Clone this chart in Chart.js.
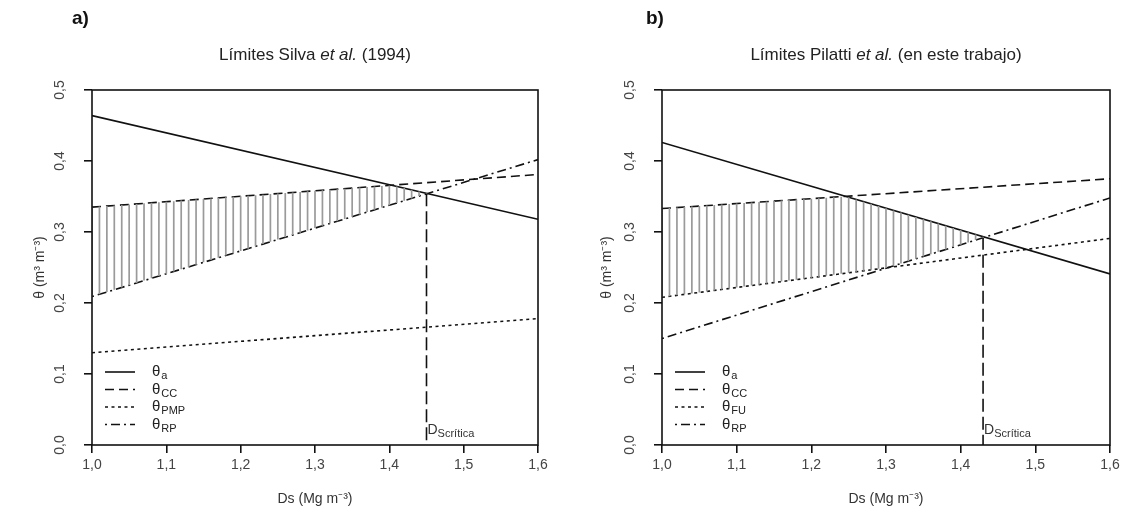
<!DOCTYPE html>
<html>
<head>
<meta charset="utf-8">
<script src="https://cdn.jsdelivr.net/npm/chart.js@4"></script>
<style>
body { margin: 0; background: #fff; font-family: "Liberation Sans", Arial, sans-serif; }
#wrap { position: relative; width: 1125px; height: 523px; overflow: hidden; }
canvas { position: absolute; top: 0; }
.tag { position: absolute; top: 7px; font-weight: bold; font-size: 19px; color: #111; }
.ttl { position: absolute; top: 45px; font-size: 17px; color: #222; white-space: nowrap; transform: translateX(-50%); }
</style>
</head>
<body>
<div id="wrap">
  <canvas id="chartA" width="562" height="523" style="left:0"></canvas>
  <canvas id="chartB" width="563" height="523" style="left:562px"></canvas>
  <div class="tag" style="left:72px">a)</div>
  <div class="tag" style="left:646px">b)</div>
  <div class="ttl" style="left:315px">Límites Silva <i>et al.</i> (1994)</div>
  <div class="ttl" style="left:886px">Límites Pilatti <i>et al.</i> (en este trabajo)</div>
</div>
<script>
// bulk density (x) at the two ends of each line
const dsRange = [1.0, 1.6];
const xTicks = [1.0, 1.1, 1.2, 1.3, 1.4, 1.5, 1.6];
const yTicks = [0.0, 0.1, 0.2, 0.3, 0.4, 0.5];

// panel a) Silva et al. (1994)
const thetaA_a = [0.464, 0.318];
const thetaCC_a = [0.335, 0.381];
const thetaPMP_a = [0.130, 0.178];
const thetaRP_a = [0.209, 0.402];
const dsCrit_a = 1.45;

// panel b) Pilatti et al.
const thetaA_b = [0.426, 0.241];
const thetaCC_b = [0.333, 0.375];
const thetaFU_b = [0.208, 0.291];
const thetaRP_b = [0.150, 0.348];
const dsCrit_b = 1.43;

const hatchStep = 0.01;
const FONT = '"Liberation Sans", Arial, sans-serif';

function lineAt(arr, x) {
    const t = (x - dsRange[0]) / (dsRange[1] - dsRange[0]);
    return arr[0] + t * (arr[1] - arr[0]);
}

function toPoints(arr) {
    return dsRange.map((x, i) => ({x: x, y: arr[i]}));
}

// vertical hatch segments between the upper limits and the lower limits
function hatchPoints(upper, lower, xEnd) {
    const pts = [];
    const n = Math.round((xEnd - dsRange[0]) / hatchStep);
    for (let i = 0; i <= n; i++) {
        const x = dsRange[0] + i * hatchStep;
        const hi = Math.min(...upper.map(a => lineAt(a, x)));
        const lo = Math.max(...lower.map(a => lineAt(a, x)));
        pts.push({x: x, y: lo}, {x: x, y: hi}, {x: x, y: null});
    }
    return pts;
}

function fmt(v) {
    return v.toFixed(1).replace('.', ',');
}

const boxPlugin = {
    id: 'box',
    afterDatasetsDraw(chart) {
        const a = chart.chartArea, ctx = chart.ctx;
        ctx.save();
        ctx.strokeStyle = '#111';
        ctx.lineWidth = 1.6;
        ctx.strokeRect(a.left, a.top, a.right - a.left, a.bottom - a.top);
        ctx.restore();
    }
};

function makeChart(id, opt) {
    const styles = [
        {dash: [], sub: 'a'},
        {dash: [9, 5], sub: 'CC'},
        {dash: [3, 3.5], sub: opt.lowName},
        {dash: [2, 4, 9, 4], sub: 'RP'}
    ];
    const series = [opt.a, opt.cc, opt.low, opt.rp];

    const datasets = [{
        data: hatchPoints([opt.cc, opt.a], [opt.low, opt.rp], opt.crit),
        borderColor: '#9a9a9a',
        borderWidth: 1.7,
        spanGaps: false
    }];
    series.forEach((s, i) => {
        datasets.push({
            data: toPoints(s),
            borderColor: '#111',
            borderWidth: 1.6,
            borderDash: styles[i].dash
        });
    });
    datasets.push({
        data: [{x: opt.crit, y: lineAt(opt.a, opt.crit)}, {x: opt.crit, y: 0}],
        borderColor: '#111',
        borderWidth: 1.6,
        borderDash: [13, 5]
    });

    const legendPlugin = {
        id: 'thetaLegend',
        afterDatasetsDraw(chart) {
            const a = chart.chartArea, ctx = chart.ctx;
            ctx.save();
            styles.forEach((st, i) => {
                const y = a.bottom - 73 + i * 17.5;
                ctx.strokeStyle = '#111';
                ctx.lineWidth = 1.6;
                ctx.setLineDash(st.dash);
                ctx.beginPath();
                ctx.moveTo(a.left + 13, y);
                ctx.lineTo(a.left + 43, y);
                ctx.stroke();
                ctx.setLineDash([]);
                ctx.fillStyle = '#222';
                ctx.textBaseline = 'middle';
                ctx.font = '15px ' + FONT;
                ctx.fillText('θ', a.left + 60, y);
                const w = ctx.measureText('θ').width;
                ctx.font = '11px ' + FONT;
                ctx.fillText(st.sub, a.left + 60 + w + 1, y + 4);
            });
            // critical bulk density label
            const x = chart.scales.x.getPixelForValue(opt.crit) + 1;
            ctx.fillStyle = '#333';
            ctx.textBaseline = 'alphabetic';
            ctx.font = '14px ' + FONT;
            ctx.fillText('D', x, a.bottom - 11);
            const wd = ctx.measureText('D').width;
            ctx.font = '11px ' + FONT;
            ctx.fillText('Scrítica', x + wd, a.bottom - 8);
            ctx.restore();
        }
    };

    return new Chart(document.getElementById(id).getContext('2d'), {
        type: 'line',
        data: {datasets: datasets},
        options: {
            responsive: false,
            animation: false,
            layout: {padding: {top: 90, right: opt.padRight, left: 0, bottom: 0}},
            elements: {point: {radius: 0}, line: {tension: 0}},
            plugins: {legend: {display: false}, tooltip: {enabled: false}},
            scales: {
                x: {
                    type: 'linear',
                    min: 1.0,
                    max: 1.6,
                    afterBuildTicks: s => { s.ticks = xTicks.map(v => ({value: v})); },
                    afterFit: s => { s.height = 78; },
                    grid: {drawOnChartArea: false, drawTicks: true, tickLength: 8, color: '#111', lineWidth: 1.6},
                    border: {display: false},
                    ticks: {callback: v => fmt(v), color: '#444', font: {family: FONT, size: 14}, padding: 4, maxRotation: 0},
                    title: {display: true, text: 'Ds (Mg m⁻³)', color: '#333', font: {family: FONT, size: 14}, padding: {top: 0, bottom: 15}}
                },
                y: {
                    type: 'linear',
                    min: 0,
                    max: 0.5,
                    afterBuildTicks: s => { s.ticks = yTicks.map(v => ({value: v})); },
                    afterFit: s => { s.width = opt.yWidth; },
                    grid: {drawOnChartArea: false, drawTicks: true, tickLength: 8, color: '#111', lineWidth: 1.6},
                    border: {display: false},
                    ticks: {callback: v => fmt(v), color: '#444', font: {family: FONT, size: 14}, padding: 14,
                            minRotation: 90, maxRotation: 90, crossAlign: 'center'},
                    title: {display: true, text: 'θ (m³ m⁻³)', color: '#333', font: {family: FONT, size: 14}, padding: {top: opt.titlePad, bottom: 0}}
                }
            }
        },
        plugins: [boxPlugin, legendPlugin]
    });
}

window.addEventListener('load', function () {
    makeChart('chartA', {a: thetaA_a, cc: thetaCC_a, low: thetaPMP_a, rp: thetaRP_a, crit: dsCrit_a,
                         lowName: 'PMP', yWidth: 92, padRight: 24, titlePad: 32});
    makeChart('chartB', {a: thetaA_b, cc: thetaCC_b, low: thetaFU_b, rp: thetaRP_b, crit: dsCrit_b,
                         lowName: 'FU', yWidth: 100, padRight: 15, titlePad: 37});
});
</script>
</body>
</html>
